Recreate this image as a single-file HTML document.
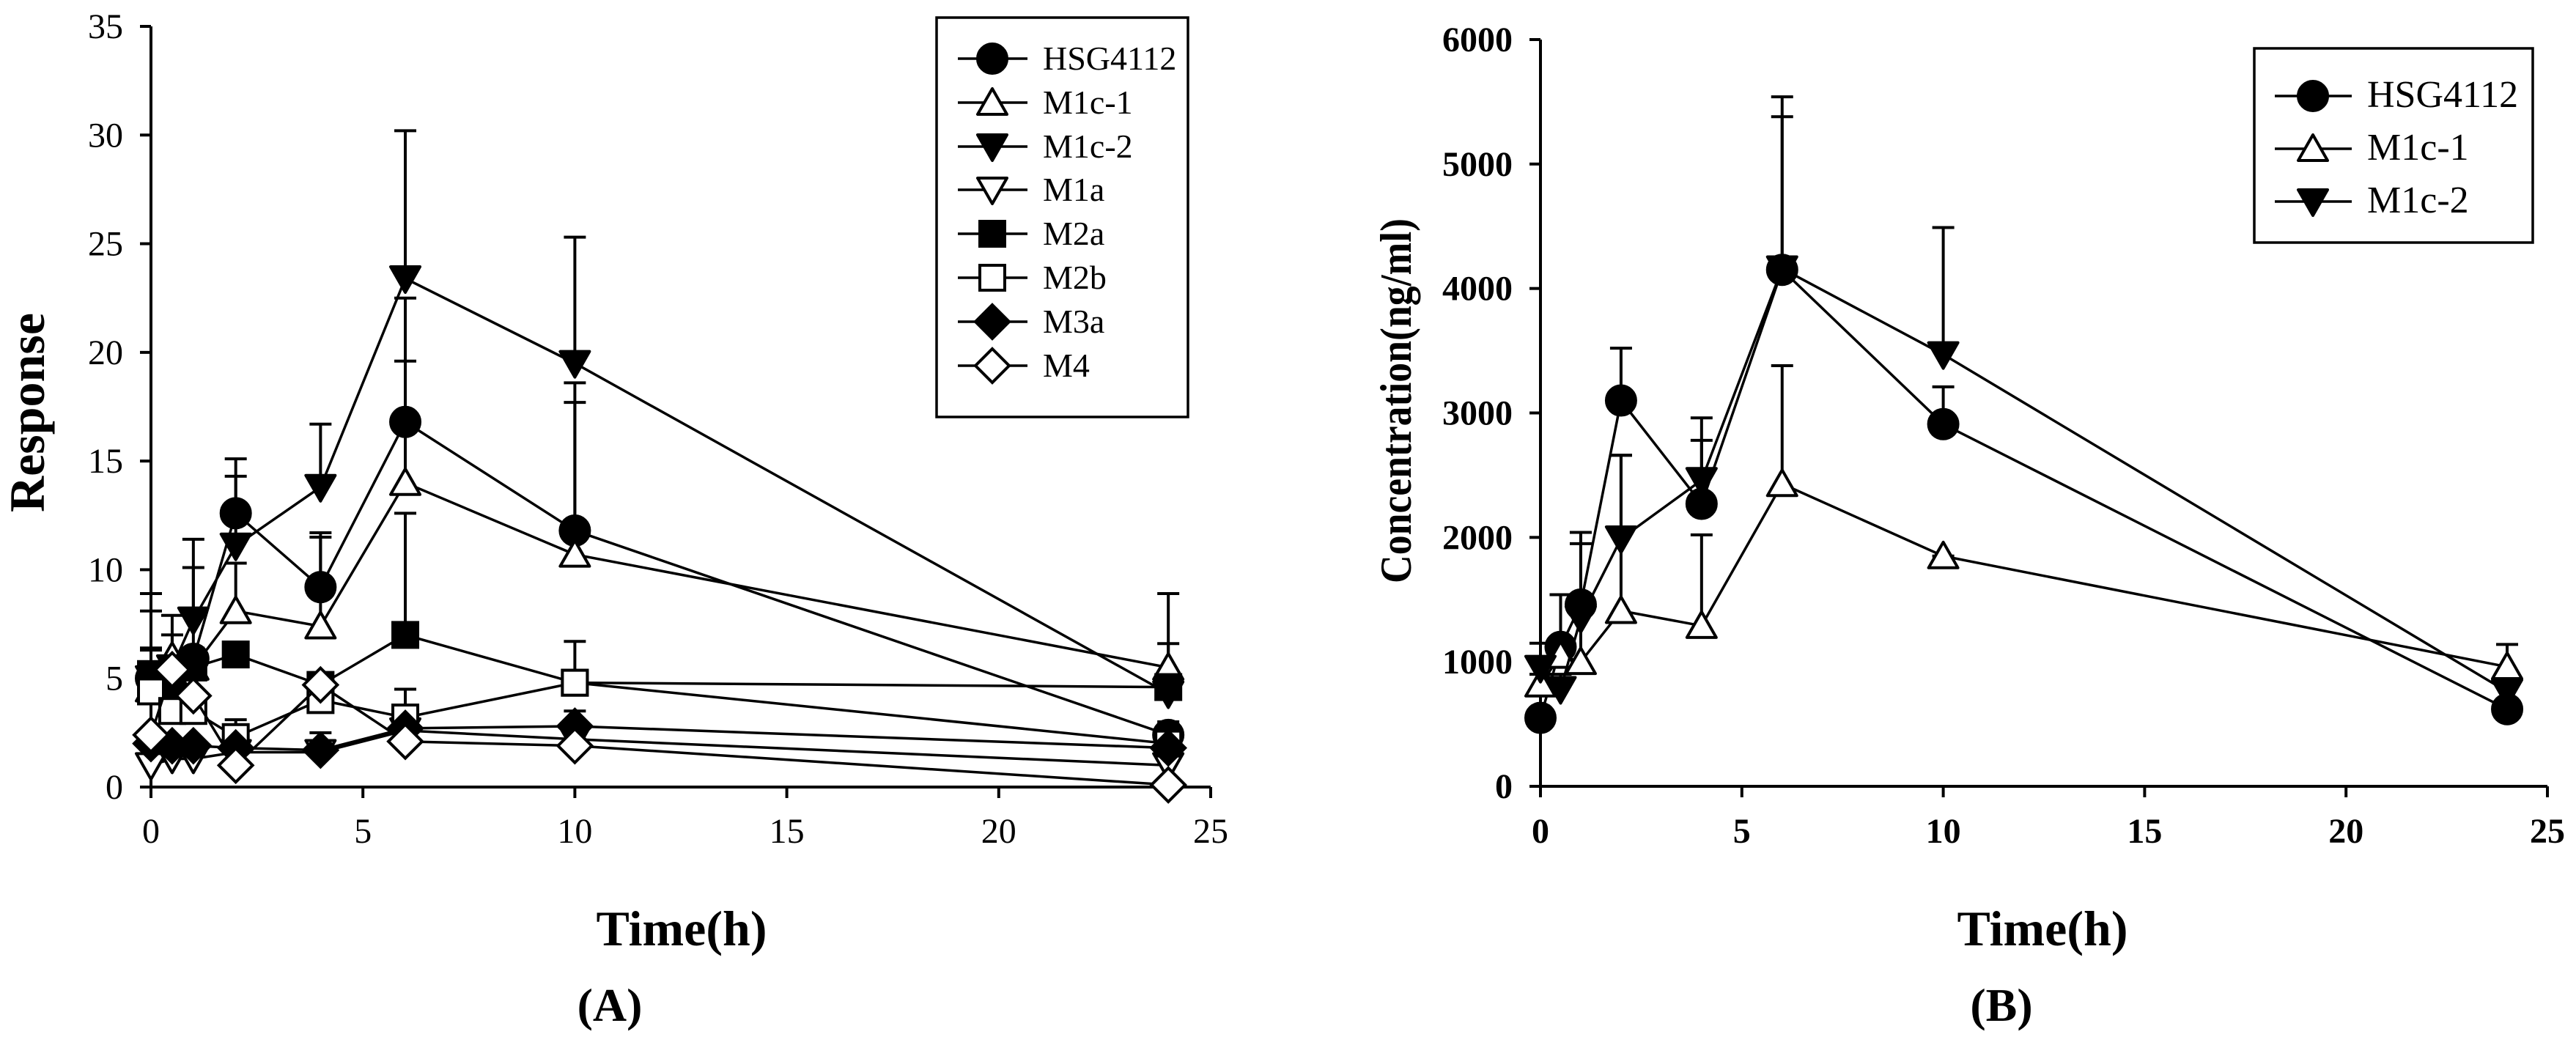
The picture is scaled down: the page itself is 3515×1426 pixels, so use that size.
<!DOCTYPE html>
<html><head><meta charset="utf-8"><style>
html,body{margin:0;padding:0;background:#fff;}
svg{display:block;font-family:"Liberation Serif",serif;}
</style></head><body>
<svg id="fig" width="3515" height="1426" viewBox="0 0 3515 1426" xmlns="http://www.w3.org/2000/svg">
<rect width="3515" height="1426" fill="#fff"/>
</svg>
<script>
// ---------- Data: Chart A ----------
const timesA = [0, 0.5, 1, 2, 4, 6, 10, 24];
const namesA = ["HSG4112","M1c-1","M1c-2","M1a","M2a","M2b","M3a","M4"];
const hsgA   = [5.0, 4.5, 5.9, 12.6, 9.2, 16.8, 11.8, 2.4];
const m1c1A  = [4.5, 6.0, 5.5, 8.1, 7.4, 14.0, 10.7, 5.5];
const m1c2A  = [5.0, 5.5, 7.7, 11.1, 13.8, 23.4, 19.5, 4.3];
const m1aA   = [1.0, 1.3, 1.3, 1.6, 1.6, 2.6, 2.2, 1.0];
const m2aA   = [5.2, 4.4, 5.5, 6.1, 4.7, 7.0, 4.8, 4.6];
const m2bA   = [4.4, 3.5, 3.5, 2.3, 4.0, 3.2, 4.8, 2.0];
const m3aA   = [2.0, 1.9, 1.9, 1.8, 1.7, 2.7, 2.8, 1.8];
const m4A    = [2.4, 5.4, 4.2, 1.0, 4.7, 2.1, 1.9, 0.1];
const hsgAErr  = [6.3, 6.0, 10.1, 14.3, 11.5, 19.6, 17.7, 3.0];
const m1c1AErr = [8.1, 7.0, 6.0, 10.3, 11.7, 22.5, 18.6, 8.9];
const m1c2AErr = [8.9, 7.9, 11.4, 15.1, 16.7, 30.2, 25.3, 6.6];
const m2aAErr  = [6.4, 5.0, 6.4, 6.5, 5.0, 12.6, 5.0, 5.0];
const m2bAErr  = [5.0, 4.0, 4.5, 3.1, 4.0, 4.5, 6.7, 2.4];
const m3aAErr  = [2.4, 2.1, 2.1, 2.0, 2.5, 3.2, 3.5, 2.1];
const xTicksA = [0, 5, 10, 15, 20, 25];
const yTicksA = [0, 5, 10, 15, 20, 25, 30, 35];
// ---------- Data: Chart B ----------
const timesB = [0, 0.5, 1, 2, 4, 6, 10, 24];
const namesB = ["HSG4112","M1c-1","M1c-2"];
const hsgB   = [550, 1120, 1460, 3100, 2270, 4150, 2910, 620];
const m1c1B  = [820, 1050, 1000, 1410, 1290, 2430, 1850, 960];
const m1c2B  = [950, 780, 1350, 1990, 2460, 4160, 3470, 760];
const hsgBErr  = [1150, 1540, 2040, 3520, 2780, 5540, 3210, 700];
const m1c1BErr = [900, 1150, 1950, 2660, 2020, 3380, 1850, 1140];
const m1c2BErr = [1000, 900, 2040, 2660, 2960, 5380, 4490, 850];
const xTicksB = [0, 5, 10, 15, 20, 25];
const yTicksB = [0, 1000, 2000, 3000, 4000, 5000, 6000];

const NS = "http://www.w3.org/2000/svg";
const svg = document.getElementById("fig");
function mk(tag, attrs, parent){
  const e = document.createElementNS(NS, tag);
  for (const k in attrs) e.setAttribute(k, attrs[k]);
  (parent||svg).appendChild(e);
  return e;
}
function marker(g, type, cx, cy){
  let e;
  const sw = 4;
  if (type === "circle") {
    e = mk("circle", {cx, cy, r: 20, fill: "#000", stroke: "#000", "stroke-width": sw}, g);
  } else if (type === "triUp" || type === "triUpFill") {
    e = mk("polygon", {points: `${cx},${cy-19} ${cx-20},${cy+16} ${cx+20},${cy+16}`, fill: type==="triUp"?"#fff":"#000", stroke: "#000", "stroke-width": sw, "stroke-linejoin":"round"}, g);
  } else if (type === "triDown" || type === "triDownFill") {
    e = mk("polygon", {points: `${cx-20},${cy-16} ${cx+20},${cy-16} ${cx},${cy+19}`, fill: type==="triDown"?"#fff":"#000", stroke: "#000", "stroke-width": sw, "stroke-linejoin":"round"}, g);
  } else if (type === "square" || type === "squareOpen") {
    e = mk("rect", {x: cx-17, y: cy-17, width: 34, height: 34, fill: type==="square"?"#000":"#fff", stroke: "#000", "stroke-width": sw}, g);
  } else if (type === "diamond" || type === "diamondOpen") {
    e = mk("polygon", {points: `${cx},${cy-23} ${cx+23},${cy} ${cx},${cy+23} ${cx-23},${cy}`, fill: type==="diamond"?"#000":"#fff", stroke: "#000", "stroke-width": sw}, g);
  }
  return e;
}

function chart(cfg){
  const {x0, x1, y0, y1, xmax, ymax, xTicks, yTicks, series, bold, id} = cfg;
  const sx = v => x0 + (v / xmax) * (x1 - x0);
  const sy = v => y0 - (v / ymax) * (y0 - y1);
  const g = mk("g", {});
  
  
  const ax = mk("g", {}, g);
  
  
  mk("line", {x1: x0, y1: y0, x2: x1, y2: y0, stroke: "#000", "stroke-width": 4}, ax);
  mk("line", {x1: x0, y1: y0, x2: x0, y2: y1, stroke: "#000", "stroke-width": 4}, ax);
  yTicks.forEach(t => {
    const y = sy(t);
    mk("line", {x1: x0 - 15, y1: y, x2: x0, y2: y, stroke: "#000", "stroke-width": 4}, ax);
    const tx = mk("text", {x: x0 - 38, y: y + 16, "text-anchor": "end", "font-size": 48, "font-weight": bold?"bold":"normal"}, ax);
    tx.textContent = t;
    
    
  });
  xTicks.forEach(t => {
    const x = sx(t);
    mk("line", {x1: x, y1: y0, x2: x, y2: y0 + 15, stroke: "#000", "stroke-width": 4}, ax);
    const tx = mk("text", {x: x, y: 1150, "text-anchor": "middle", "font-size": 48, "font-weight": bold?"bold":"normal"}, ax);
    tx.textContent = t;
    
    
  });
  series.forEach(s => {
    if (!s.err) return;
    const eg = mk("g", {}, g);
    
    
    s.vals.forEach((v, i) => {
      const x = sx(s.times[i]);
      const ya = sy(v), yb = sy(s.err[i]);
      mk("line", {x1: x, y1: ya, x2: x, y2: yb, stroke: "#000", "stroke-width": 4}, eg);
      mk("line", {x1: x - 15, y1: yb, x2: x + 15, y2: yb, stroke: "#000", "stroke-width": 4}, eg);
    });
  });
  series.forEach(s => {
    const sg = mk("g", {}, g);
    
    
    const pts = s.vals.map((v, i) => sx(s.times[i]) + "," + sy(v)).join(" ");
    mk("polyline", {points: pts, fill: "none", stroke: "#000", "stroke-width": 3.5}, sg);
    s.vals.forEach((v, i) => {
      const m = marker(sg, s.type, sx(s.times[i]), sy(v));
      
      
    });
  });
  return g;
}

function legend(cfg){
  const {bx, by, bw, bh, lx1, lx2, mx, tx, ys, names, types, fs} = cfg;
  const g = mk("g", {});
  
  
  mk("rect", {x: bx, y: by, width: bw, height: bh, fill: "#fff", stroke: "#000", "stroke-width": 3.5}, g);
  names.forEach((n, i) => {
    const y = ys[i];
    const eg = mk("g", {}, g);
    
    
    mk("line", {x1: lx1, y1: y, x2: lx2, y2: y, stroke: "#000", "stroke-width": 3.5}, eg);
    marker(eg, types[i], mx, y);
    const t = mk("text", {x: tx, y: y + 15, "font-size": fs}, eg);
    t.textContent = n;
  });
}

function label(txt, x, y, size, rot, name, len){
  const a = {x, y, "text-anchor": "middle", "font-size": size, "font-weight": "bold"};
  if (rot) a.transform = `rotate(-90 ${x} ${y})`;
  if (len) { a.textLength = len; a.lengthAdjust = "spacingAndGlyphs"; }
  const t = mk("text", a);
  t.textContent = txt;
  
  
}

const typesA = ["circle","triUp","triDownFill","triDown","square","squareOpen","diamond","diamondOpen"];
const valsA = [hsgA, m1c1A, m1c2A, m1aA, m2aA, m2bA, m3aA, m4A];
const errsA = [hsgAErr, m1c1AErr, m1c2AErr, null, m2aAErr, m2bAErr, m3aAErr, null];
const seriesA = namesA.map((n, i) => ({key: n.toLowerCase(), vals: valsA[i], err: errsA[i], type: typesA[i], times: timesA}));
chart({id: "chart-a", x0: 206, x1: 1652, y0: 1074, y1: 36, xmax: 25, ymax: 35, xTicks: xTicksA, yTicks: yTicksA, series: seriesA, bold: false});
legend({id: "legend-a", bx: 1278, by: 24, bw: 343, bh: 545, lx1: 1307, lx2: 1402, mx: 1354, tx: 1423, ys: [80,140,200,259,319,379,439,499], names: namesA, types: typesA, fs: 46});

const typesB = ["circle","triUp","triDownFill"];
const valsB = [hsgB, m1c1B, m1c2B];
const errsB = [hsgBErr, m1c1BErr, m1c2BErr];
const seriesB = namesB.map((n, i) => ({key: n.toLowerCase(), vals: valsB[i], err: errsB[i], type: typesB[i], times: timesB}));
chart({id: "chart-b", x0: 2102, x1: 3476, y0: 1073, y1: 54, xmax: 25, ymax: 6000, xTicks: xTicksB, yTicks: yTicksB, series: seriesB, bold: true});
legend({id: "legend-b", bx: 3076, by: 66, bw: 380, bh: 265, lx1: 3104, lx2: 3209, mx: 3156, tx: 3230, ys: [131,203,275], names: namesB, types: typesB, fs: 52});

label("Time(h)", 930, 1290, 68, false, "x-axis-title-a");
label("(A)", 832, 1393, 64, false, "panel-label-a");
label("Response", 60, 563, 68, true, "y-axis-title-a");
label("Time(h)", 2787, 1290, 68, false, "x-axis-title-b");
label("(B)", 2731, 1393, 64, false, "panel-label-b");
label("Concentration(ng/ml)", 1925, 547, 60, true, "y-axis-title-b", 498);
</script>
</body></html>
